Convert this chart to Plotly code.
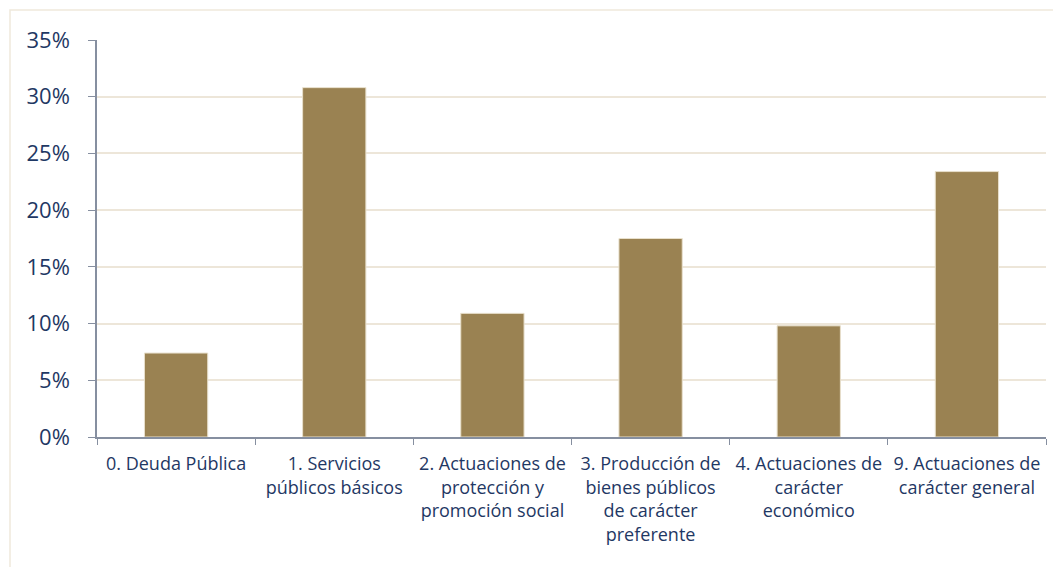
import plotly.graph_objects as go

categories = [
    "0. Deuda Pública",
    "1. Servicios<br>públicos básicos",
    "2. Actuaciones de<br>protección y<br>promoción social",
    "3. Producción de<br>bienes públicos<br>de carácter<br>preferente",
    "4. Actuaciones de<br>carácter<br>económico",
    "9. Actuaciones de<br>carácter general",
]
values = [7.4, 30.8, 10.9, 17.5, 9.8, 23.4]
y_ticks = [0, 5, 10, 15, 20, 25, 30, 35]
y_tick_labels = ["0%", "5%", "10%", "15%", "20%", "25%", "30%", "35%"]

text_color = "#1F3864"
axis_color = "#868FA0"
grid_color = "#EDE6D9"

fig = go.Figure(go.Bar(
    x=categories, y=values,
    marker=dict(color="#9A8252", line=dict(color="#E8E0CC", width=1)),
))

# page body adds 8px offset; compensate
W, H = 1053, 559
fig.update_layout(
    width=W, height=H,
    margin=dict(l=89, r=15, t=32, b=130, autoexpand=False),
    paper_bgcolor="white", plot_bgcolor="white",
    bargap=0.6,
    showlegend=False,
    font=dict(family="Open Sans, Liberation Sans, sans-serif", color=text_color),
    shapes=[dict(type="rect", xref="paper", yref="paper",
                 x0=-87/949, x1=1+30/949, y0=-140/397, y1=1+30/397,
                 line=dict(color="#EFE9DC", width=1.5), layer="below")],
)
fig.update_xaxes(
    showline=True, linecolor=axis_color, linewidth=1.5,
    ticks="outside", tickcolor=axis_color, ticklen=6, tickson="boundaries",
    tickfont=dict(size=18, color=text_color), showgrid=False,
    ticklabelstandoff=10,
)
fig.update_yaxes(
    range=[0, 35], tickvals=y_ticks, ticktext=y_tick_labels,
    showline=True, linecolor=axis_color, linewidth=1.5,
    ticks="outside", tickcolor=axis_color, ticklen=7,
    tickfont=dict(size=22, color=text_color),
    gridcolor=grid_color, gridwidth=1.5, zeroline=False,
    ticklabelstandoff=14,
)

fig.write_html("out.html")
